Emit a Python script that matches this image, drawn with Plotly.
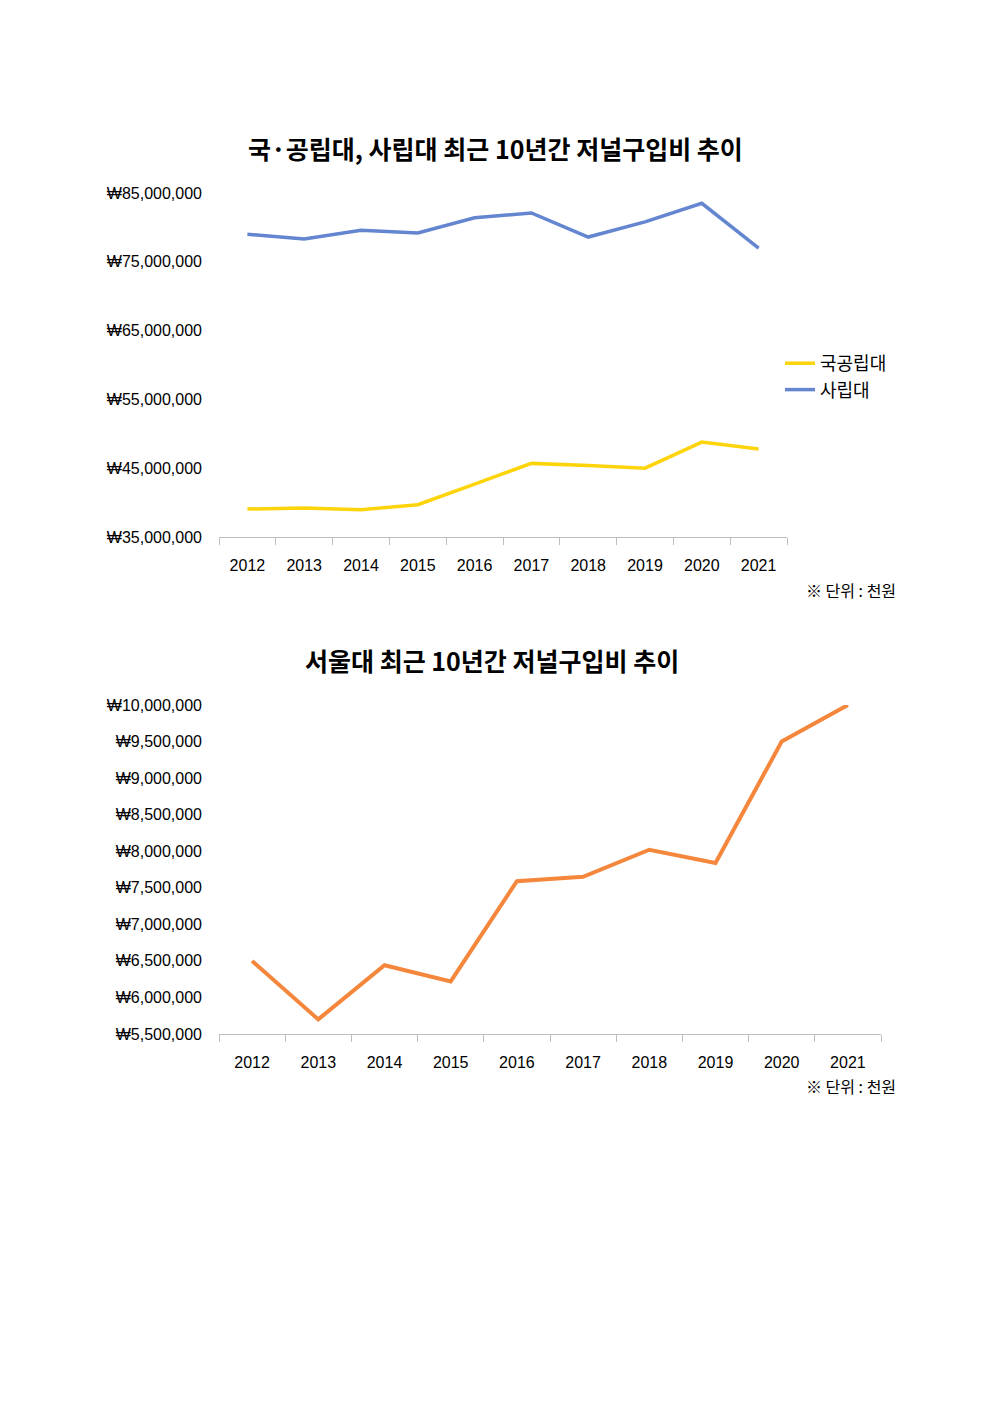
import plotly.graph_objects as go

years = ["2012", "2013", "2014", "2015", "2016", "2017", "2018", "2019", "2020", "2021"]

# 국공립대 / 사립대 저널구입비 (원)
public_univ = [39070000, 39200000, 38970000, 39700000, 42700000, 45700000,
               45400000, 45000000, 48800000, 47800000]
private_univ = [79000000, 78300000, 79600000, 79200000, 81400000, 82100000,
                78600000, 80800000, 83500000, 77000000]

# 서울대 저널구입비 (원)
snu = [6500000, 5700000, 6440000, 6220000, 7590000, 7650000,
       8020000, 7840000, 9500000, 10000000]

# the page body keeps its default 8px margin, so the figure is a bit smaller
PAD = 8
W, H = 992 - 2 * PAD, 1403 - 2 * PAD
KR = "Noto Sans CJK KR"
NUM = "Liberation Sans, " + KR


def px(x):
    return (x - PAD) / W


def py(y):
    return 1 - (y - PAD) / H


fig = go.Figure()
fig.add_trace(go.Scatter(x=years, y=public_univ, name="국공립대", mode="lines",
                         line=dict(color="#FDD40A", width=3.5), xaxis="x", yaxis="y"))
fig.add_trace(go.Scatter(x=years, y=private_univ, name="사립대", mode="lines",
                         line=dict(color="#6485D0", width=3.5), xaxis="x", yaxis="y"))
fig.add_trace(go.Scatter(x=years, y=snu, name="서울대", mode="lines", showlegend=False,
                         line=dict(color="#F5873D", width=4), xaxis="x2", yaxis="y2"))

xcommon = dict(type="category", range=[-0.5, 9.5], automargin=False, showgrid=False,
               showline=True, linecolor="#BFBFBF", linewidth=1, ticks="outside",
               tickson="boundaries", ticklen=7, tickcolor="#BFBFBF",
               tickfont=dict(family=NUM, size=16, color="#000"),
               ticklabelstandoff=14, zeroline=False, fixedrange=True)
ycommon = dict(automargin=False, showgrid=False, showline=False, zeroline=False,
               tickprefix="₩", tickformat=",d", ticks="", ticklabelstandoff=16,
               tickfont=dict(family=NUM, size=16, color="#000"))

fig.update_layout(
    width=W, height=H,
    margin=dict(l=0, r=0, t=0, b=0, autoexpand=False),
    paper_bgcolor="white", plot_bgcolor="white",
    showlegend=True,
    xaxis=dict(domain=[px(219), px(787)], anchor="y", **xcommon),
    yaxis=dict(domain=[py(537), py(193)], anchor="x",
               range=[35000000, 85000000], tick0=35000000, dtick=10000000, **ycommon),
    xaxis2=dict(domain=[px(219), px(881)], anchor="y2", **xcommon),
    yaxis2=dict(domain=[py(1034), py(705)], anchor="x2",
                range=[5500000, 10000000], tick0=5500000, dtick=500000, **ycommon),
    legend=dict(x=px(780), y=py(345), xanchor="left", yanchor="top",
                font=dict(family=KR, size=18, color="#000"),
                bgcolor="rgba(0,0,0,0)", tracegroupgap=0, itemwidth=30),
    annotations=[
        dict(text="<b>국·공립대, 사립대 최근 10년간 저널구입비 추이</b>",
             x=px(495), y=py(148), xref="paper", yref="paper", yanchor="middle",
             showarrow=False, font=dict(family=KR, size=25, color="#000")),
        dict(text="<b>서울대 최근 10년간 저널구입비 추이</b>",
             x=px(492), y=py(660), xref="paper", yref="paper", yanchor="middle",
             showarrow=False, font=dict(family=KR, size=25, color="#000")),
        dict(text="※ 단위 : 천원", x=px(898), y=py(590), xref="paper", yref="paper",
             xanchor="right", yanchor="middle", showarrow=False,
             font=dict(family=KR, size=16, color="#000")),
        dict(text="※ 단위 : 천원", x=px(898), y=py(1086), xref="paper", yref="paper",
             xanchor="right", yanchor="middle", showarrow=False,
             font=dict(family=KR, size=16, color="#000")),
    ],
)

fig.write_html("out.html")
